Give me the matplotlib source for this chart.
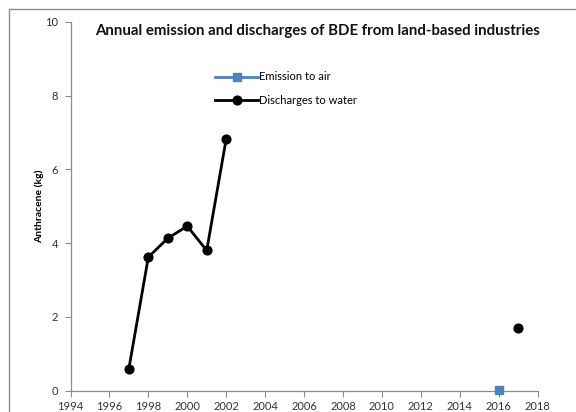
import numpy as np
import matplotlib
matplotlib.use("Agg")
import matplotlib.pyplot as plt
from matplotlib.patches import Rectangle

plt.rcParams['font.family'] = ['Lato', 'DejaVu Sans']

# Data (kg)
air_years = [2016]
air_values = [0.03]
water_years = [1997, 1998, 1999, 2000, 2001, 2002, 2003, 2016, 2017]
water_values = [0.6, 3.62, 4.13, 4.46, 3.8, 6.82, np.nan, np.nan, 1.7]
x_ticks = list(range(1994, 2019, 2))
y_ticks = [0, 2, 4, 6, 8, 10]

title = "Annual emission and discharges of BDE from land-based industries"

fig = plt.figure(figsize=(5.76, 4.12), dpi=100)
fig.patch.set_facecolor('white')

# outer chart frame
fig.add_artist(Rectangle((8.5 / 576, -0.05), 1.2, 1 - 8.5 / 412 + 0.05,
                         transform=fig.transFigure, fill=False,
                         edgecolor='#8c8c8c', linewidth=1.0))

ax = fig.add_axes([70.5 / 576, 21.3 / 412, 467 / 576, 369 / 412])

axis_gray = '#8c8c8c'
ax.plot(water_years, water_values, color='black', linewidth=2.0,
        marker='o', markersize=6.3, label='Discharges to water', zorder=3)
ax.plot(air_years, air_values, color='#4F81BD', linewidth=2.0,
        marker='s', markersize=6.3, label='Emission to air', zorder=4,
        clip_on=False)

ax.set_xlim(1994, 2018)
ax.set_ylim(0, 10)
ax.set_xticks(x_ticks)
ax.set_yticks(y_ticks)
ax.tick_params(axis='both', labelsize=8, colors=axis_gray,
               labelcolor='#333333', length=4, width=0.8)
ax.tick_params(axis='y', pad=5)
for side in ['top', 'right']:
    ax.spines[side].set_visible(False)
for side in ['left', 'bottom']:
    ax.spines[side].set_color(axis_gray)
    ax.spines[side].set_linewidth(0.9)

ax.set_ylabel('Anthracene (kg)', fontsize=7.5, fontweight='bold',
              labelpad=1)

fig.text(318 / 576, 1 - 31 / 412, title, ha='center', va='center',
         fontsize=10.8, fontweight='bold', color='#111111')

handles, labels = ax.get_legend_handles_labels()
leg = ax.legend(handles[::-1], labels[::-1], loc='upper left',
                bbox_to_anchor=(211 / 576, 1 - 67 / 412),
                bbox_transform=fig.transFigure, frameon=False,
                fontsize=8, handlelength=3.8, handletextpad=0.1,
                labelspacing=1.15, borderaxespad=0)

fig.savefig('out.png', dpi=100)
